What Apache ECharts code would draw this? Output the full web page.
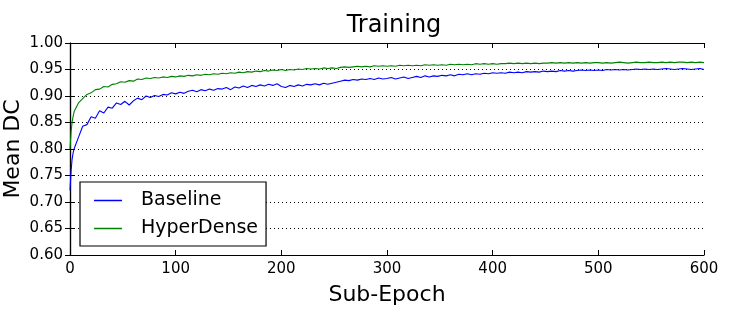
<!DOCTYPE html>
<html><head><meta charset="utf-8">
<script src="https://cdn.jsdelivr.net/npm/echarts@6/dist/echarts.min.js"></script>
<style>html,body{margin:0;padding:0;background:#fff}#c{width:733px;height:315px}</style>
</head><body><div id="c"></div>
<script>
const subEpochs = [
0,1,2,3,4,8,12,16,20,24,
28,32,36,40,44,48,52,56,60,64,
68,72,76,80,84,88,92,96,100,104,
108,112,116,120,124,128,132,136,140,144,
148,152,156,160,164,168,172,176,180,184,
188,192,196,200,204,208,212,216,220,224,
228,232,236,240,244,248,252,256,260,264,
268,272,276,280,284,288,292,296,300,304,
308,312,316,320,324,328,332,336,340,344,
348,352,356,360,364,368,372,376,380,384,
388,392,396,400,404,408,412,416,420,424,
428,432,436,440,444,448,452,456,460,464,
468,472,476,480,484,488,492,496,500,504,
508,512,516,520,524,528,532,536,540,544,
548,552,556,560,564,568,572,576,580,584,
588,592,596,600];
const baseline = [
0.722,0.758,0.781,0.793,0.801,0.822,0.843,0.846,0.861,0.858,
0.872,0.868,0.879,0.877,0.887,0.884,0.890,0.883,0.891,0.896,
0.893,0.900,0.897,0.901,0.899,0.903,0.902,0.906,0.904,0.907,
0.905,0.909,0.911,0.908,0.912,0.910,0.913,0.911,0.914,0.913,
0.916,0.912,0.917,0.915,0.919,0.916,0.920,0.918,0.921,0.919,
0.922,0.920,0.923,0.918,0.916,0.920,0.918,0.921,0.919,0.922,
0.921,0.923,0.921,0.924,0.922,0.924,0.926,0.928,0.930,0.929,
0.931,0.930,0.932,0.931,0.933,0.931,0.934,0.932,0.933,0.935,
0.932,0.934,0.936,0.933,0.935,0.937,0.935,0.938,0.936,0.938,
0.937,0.939,0.938,0.940,0.938,0.941,0.940,0.942,0.940,0.942,
0.941,0.943,0.942,0.944,0.943,0.944,0.943,0.945,0.944,0.945,
0.944,0.946,0.945,0.946,0.945,0.947,0.946,0.947,0.946,0.948,
0.947,0.948,0.947,0.948,0.949,0.948,0.949,0.948,0.949,0.948,
0.950,0.949,0.950,0.949,0.950,0.949,0.950,0.951,0.950,0.951,
0.950,0.951,0.950,0.951,0.952,0.951,0.950,0.951,0.952,0.951,
0.950,0.951,0.952,0.950];
const hyperDense = [
0.800,0.832,0.851,0.862,0.871,0.887,0.895,0.903,0.906,0.912,
0.913,0.918,0.917,0.922,0.923,0.927,0.926,0.929,0.928,0.932,
0.931,0.934,0.933,0.935,0.934,0.936,0.935,0.937,0.936,0.938,
0.937,0.939,0.938,0.940,0.939,0.941,0.940,0.942,0.941,0.943,
0.942,0.944,0.943,0.945,0.944,0.946,0.945,0.947,0.946,0.948,
0.947,0.949,0.948,0.950,0.948,0.950,0.949,0.951,0.950,0.952,
0.951,0.952,0.951,0.953,0.952,0.953,0.952,0.954,0.955,0.954,
0.955,0.956,0.955,0.956,0.955,0.957,0.956,0.957,0.956,0.957,
0.956,0.958,0.957,0.958,0.957,0.958,0.957,0.959,0.958,0.959,
0.958,0.959,0.958,0.960,0.959,0.960,0.959,0.960,0.959,0.961,
0.960,0.961,0.960,0.961,0.960,0.961,0.961,0.962,0.961,0.962,
0.961,0.962,0.961,0.962,0.961,0.962,0.962,0.963,0.962,0.963,
0.962,0.963,0.962,0.963,0.962,0.963,0.962,0.963,0.963,0.962,
0.963,0.962,0.963,0.964,0.963,0.962,0.963,0.964,0.963,0.963,
0.964,0.963,0.963,0.964,0.963,0.964,0.963,0.964,0.964,0.963,
0.964,0.963,0.964,0.963];
const seriesNames = ['Baseline','HyperDense'];
const xTicks = {min:0, max:600, interval:100};
const yTicks = {min:0.60, max:1.00, interval:0.05};

const FONT = 'DejaVu Sans';
const chart = echarts.init(document.getElementById('c'), null, {renderer:'canvas'});
const frame = {show:true, lineStyle:{color:'#000', width:1.2}};
const tickIn = {show:true, inside:true, length:5, lineStyle:{color:'#000', width:1}};
chart.setOption({
  animation:false,
  backgroundColor:'#fff',
  title:{text:'Training', left:389, top:9, textAlign:'center',
    textStyle:{fontFamily:FONT, fontSize:24, fontWeight:'normal', color:'#000'}},
  grid:{left:70, right:29, top:43, bottom:60, containLabel:false, outerBoundsMode:'none'},
  legend:{
    orient:'vertical', left:80, top:182,
    data:seriesNames, icon:'rect', itemWidth:28, itemHeight:1.5, itemGap:9,
    padding:[9,8,8,14], borderColor:'#000', borderWidth:1.2, backgroundColor:'#fff',
    textStyle:{fontFamily:FONT, fontSize:19, color:'#000', padding:[0,0,0,14]}
  },
  xAxis:[
    {type:'value', position:'bottom', min:xTicks.min, max:xTicks.max, interval:xTicks.interval,
     name:'Sub-Epoch', nameLocation:'middle', nameGap:29, nameMoveOverlap:false,
     nameTextStyle:{fontFamily:FONT, fontSize:22, color:'#000'},
     axisLine:frame, axisTick:tickIn, splitLine:{show:false},
     axisLabel:{fontFamily:FONT, fontSize:15, color:'#000', margin:7}},
    {type:'value', position:'top', min:xTicks.min, max:xTicks.max, interval:xTicks.interval,
     axisLine:frame, axisTick:tickIn, splitLine:{show:false}, axisLabel:{show:false}}
  ],
  yAxis:[
    {type:'value', position:'left', min:yTicks.min, max:yTicks.max, interval:yTicks.interval,
     name:'Mean DC', nameLocation:'middle', nameGap:46, nameRotate:90, nameMoveOverlap:false,
     nameTextStyle:{fontFamily:FONT, fontSize:22, color:'#000'},
     axisLine:frame, axisTick:tickIn,
     splitLine:{show:true, lineStyle:{color:'#000', width:1, type:[1,3]}},
     axisLabel:{fontFamily:FONT, fontSize:15, color:'#000', margin:7,
       formatter:v=>v.toFixed(2)}},
    {type:'value', position:'right', min:yTicks.min, max:yTicks.max, interval:yTicks.interval,
     axisLine:frame, axisTick:tickIn, splitLine:{show:false}, axisLabel:{show:false}}
  ],
  series:[
    {name:seriesNames[0], type:'line', xAxisIndex:0, yAxisIndex:0, showSymbol:false,
     color:'#0000ff', lineStyle:{width:1.1, color:'#0000ff'},
     data:subEpochs.map((x,i)=>[x, baseline[i]]), z:3},
    {name:seriesNames[1], type:'line', xAxisIndex:0, yAxisIndex:0, showSymbol:false,
     color:'#008000', lineStyle:{width:1.1, color:'#008000'},
     data:subEpochs.map((x,i)=>[x, hyperDense[i]]), z:3}
  ]
});
</script></body></html>
